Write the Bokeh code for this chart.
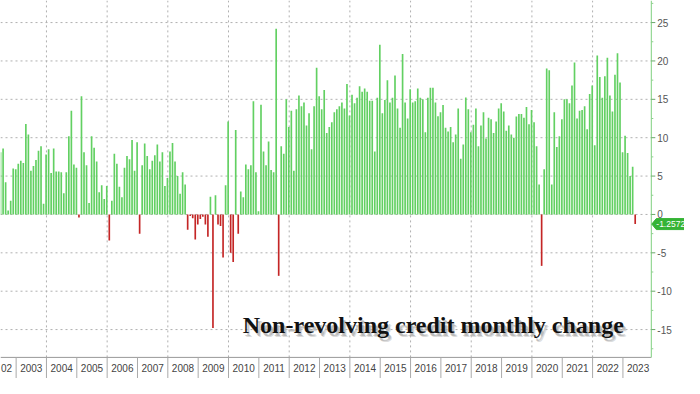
import numpy as np
from bokeh.plotting import figure
from bokeh.models import Range1d, ColumnDataSource
from bokeh.core.properties import value
from bokeh.embed import file_html
from bokeh.resources import INLINE

# Non-revolving consumer credit, monthly change ($bn), Jun 2002 - May 2023
first_year, first_month = 2002, 6
vals_2002 = [8.1, 8.6, 4.2, 0.5, 1.8, 6.0, 5.9]
vals_2003 = [6.6, 7.0, 6.7, 11.8, 10.4, 5.7, 6.3, 7.1, 8.3, 8.9, 1.4, 7.8]
vals_2004 = [8.5, 5.4, 8.6, 5.6, 5.6, 5.5, 2.75, 5.5, 10.2, 13.5, 6.5, 6.1]
vals_2005 = [-0.4, 15.4, 8.1, 6.4, 1.5, 10.2, 8.7, 6.9, 2.9, 3.8, 2.0, 3.7]
vals_2006 = [-3.4, 1.8, 7.9, 6.6, 3.6, 2.25, 6.1, 7.6, 7.2, 9.7, 5.7, 9.4]
vals_2007 = [-2.5, 6.4, 9.25, 7.6, 5.9, 7.0, 7.7, 9.1, 6.9, 8.1, 3.7, 4.75]
vals_2008 = [8.2, 9.3, 6.9, 5.0, 2.7, 5.5, 3.9, -2.0, -0.2, -0.5, -3.25, -1.3]
vals_2009 = [-0.6, -0.3, -1.3, -2.9, 2.3, -14.8, 2.5, -1.3, -1.5, -5.6, 3.8, 12.1]
vals_2010 = [-5.0, -6.2, 11.0, -2.5, 3.0, 2.25, 6.5, 5.9, 6.4, 14.75, 5.5, 0.4]
vals_2011 = [14.3, 8.2, 6.4, 9.5, 5.8, 5.5, 24.2, -8.0, 8.9, 7.9, 15.0, 11.4]
vals_2012 = [13.5, 5.7, 13.7, 15.5, 14.1, 14.6, 11.6, 13.2, 8.5, 14.1, 19.1, 15.4]
vals_2013 = [13.7, 16.2, 10.6, 11.4, 12.0, 13.3, 13.7, 14.1, 14.6, 13.8, 17.0, 12.9]
vals_2014 = [15.6, 14.5, 15.2, 16.7, 16.0, 16.4, 16.0, 14.8, 14.8, 8.2, 15.2, 22.1]
vals_2015 = [13.2, 14.9, 17.5, 14.6, 15.2, 18.1, 13.8, 11.3, 20.9, 14.6, 12.5, 16.3]
vals_2016 = [14.6, 14.75, 16.4, 15.2, 15.0, 10.7, 15.2, 16.5, 16.5, 14.6, 12.8, 13.3]
vals_2017 = [14.25, 11.3, 10.8, 11.4, 9.4, 10.4, 13.8, 7.25, 9.1, 15.25, 13.7, 10.7]
vals_2018 = [11.7, 13.8, 8.9, 11.6, 13.3, 9.9, 12.6, 12.4, 10.6, 12.1, 13.8, 14.5]
vals_2019 = [13.4, 10.9, 11.6, 10.4, 10.0, 12.75, 13.1, 13.1, 12.6, 14.0, 11.75, 13.6]
vals_2020 = [12.0, 8.9, 3.9, -6.7, 5.9, 19.0, 18.8, 3.9, 13.3, 8.8, 10.2, 12.4]
vals_2021 = [15.0, 15.0, 14.5, 16.8, 19.8, 12.5, 13.5, 13.6, 14.1, 11.1, 15.7, 16.8]
vals_2022 = [9.0, 20.7, 17.9, 15.2, 18.0, 20.4, 15.5, 13.4, 18.2, 21.0, 17.2, 8.1]
vals_2023 = [10.25, 8.0, 5.0, 6.2, -1.2572]

changes = (vals_2002 + vals_2003 + vals_2004 + vals_2005 + vals_2006 + vals_2007 +
           vals_2008 + vals_2009 + vals_2010 + vals_2011 + vals_2012 + vals_2013 +
           vals_2014 + vals_2015 + vals_2016 + vals_2017 + vals_2018 + vals_2019 +
           vals_2020 + vals_2021 + vals_2022 + vals_2023)

year_labels = [str(y) for y in range(2002, 2024)]
y_ticks = [-15, -10, -5, 0, 5, 10, 15, 20, 25]
latest_text = "-1.2572"
title_text = "Non-revolving credit monthly change"

GREEN = "#62d062"
RED = "#c42626"
TAG = "#35b335"
AXIS_GREEN = "#7fd07f"
GRID = "#b0b0b0"

W, H = 684, 378
X0 = 2002.485                 # left edge of the plot
X_AX = 2023.935               # position of the right value axis
XR = X0 + 700 / 31.05         # right edge of the canvas
Y0, Y1 = -21.375, 27.875
YBASE = -18.625               # bottom rule of the plotting area
PX = (XR - X0) / W            # one screen pixel in x data units
PY = (Y1 - Y0) / H            # one screen pixel in y data units

# month positions in fractional years
xs = []
yr, mo = first_year, first_month - 1
for _ in changes:
    xs.append(yr + (mo + 0.85) / 12.0)
    mo += 1
    if mo == 12:
        mo = 0
        yr += 1
colors = [GREEN if v >= 0 else RED for v in changes]
src = ColumnDataSource(dict(x=xs, top=changes, color=colors))

p = figure(width=W, height=H, output_backend="svg", toolbar_location=None,
           x_range=Range1d(X0, XR), y_range=Range1d(Y0, Y1),
           x_axis_location=None, y_axis_location=None,
           min_border_left=0, min_border_top=0, min_border_bottom=0,
           min_border_right=0)
p.outline_line_color = None
p.background_fill_color = "white"
p.border_fill_color = "white"
p.grid.visible = False

# horizontal dotted grid
n = len(y_ticks)
p.segment(x0=[X0] * n, y0=y_ticks, x1=[X_AX] * n, y1=y_ticks,
          line_color=GRID, line_dash="2 3", line_width=1)

# vertical dotted grid every two years
grid_years = [y for y in range(2004, 2024, 2)]
p.segment(x0=grid_years, y0=[YBASE] * len(grid_years), x1=grid_years,
          y1=[Y1] * len(grid_years), line_color=GRID, line_dash="2 3",
          line_width=1)

# bottom rule, year cells and labels
p.segment(x0=[X0], y0=[YBASE], x1=[X_AX], y1=[YBASE], line_color="#999999", line_width=1)
sep_years = list(range(2003, 2024))
p.segment(x0=sep_years, y0=[YBASE] * len(sep_years), x1=sep_years,
          y1=[Y0] * len(sep_years), line_color="#aaaaaa", line_width=1)
lbl_x = [int(s) + 0.5 for s in year_labels[1:]]
p.text(x=lbl_x, y=[-20.0] * len(lbl_x), text=year_labels[1:],
       text_align="center", text_baseline="middle",
       text_font=value("Liberation Sans"), text_font_size="10px", text_color="#444444")
# first year label is cut by the left edge: only its tail is visible
p.text(x=[int(year_labels[0]) + 0.5 + 11.1 * PX], y=[-20.0], text=[year_labels[0][2:]],
       text_align="right", text_baseline="middle",
       text_font=value("Liberation Sans"), text_font_size="10px", text_color="#444444")

# bars
p.vbar(x="x", top="top", bottom=0, width=0.055, fill_color="color",
       line_color=None, source=src)

# right value axis (line, ticks, labels)
p.segment(x0=[X_AX], y0=[YBASE], x1=[X_AX], y1=[Y1], line_color=AXIS_GREEN, line_width=1)
p.segment(x0=[X_AX] * n, y0=y_ticks, x1=[X_AX + 4 * PX] * n, y1=y_ticks,
          line_color="#6aa86a", line_width=1)
minor = [t + 2.5 for t in [-20] + y_ticks if YBASE < t + 2.5 < Y1]
p.segment(x0=[X_AX] * len(minor), y0=minor, x1=[X_AX + 2 * PX] * len(minor), y1=minor,
          line_color="#8fcf8f", line_width=1)
p.text(x=[X_AX + 6 * PX] * n, y=y_ticks, text=[str(t) for t in y_ticks],
       text_align="left", text_baseline="middle",
       text_font=value("Liberation Sans"), text_font_size="10px", text_color="#555555")

# latest value tag
last = changes[-1]
hh = 5.5 * PY
tag_x = [X_AX + 0.5 * PX, X_AX + 5 * PX, XR, XR, X_AX + 5 * PX]
tag_y = [last, last + hh, last + hh, last - hh, last - hh]
p.patch(x=tag_x, y=tag_y, fill_color=TAG, line_color=TAG)
p.text(x=[X_AX + 5 * PX], y=[last], text=[latest_text], text_align="left",
       text_baseline="middle", text_font=value("Liberation Sans"),
       text_font_size="8.5px", text_color="white")

# title with soft shadow
tx, ty = 2010.47, -14.4
for dx, dy, c, a in [(3, 4, "#bbbbbb", 0.5), (2, 3, "#999999", 0.5)]:
    p.text(x=[tx], y=[ty], text=[title_text], x_offset=dx, y_offset=dy,
           text_font=value("Liberation Serif"), text_font_style="bold",
           text_font_size="24px", text_color=c, text_alpha=a,
           text_baseline="alphabetic", text_align="left")
p.text(x=[tx], y=[ty], text=[title_text],
       text_font=value("Liberation Serif"), text_font_style="bold",
       text_font_size="24px", text_color="#111111",
       text_baseline="alphabetic", text_align="left")

open("out.html", "w").write(file_html(p, INLINE))
